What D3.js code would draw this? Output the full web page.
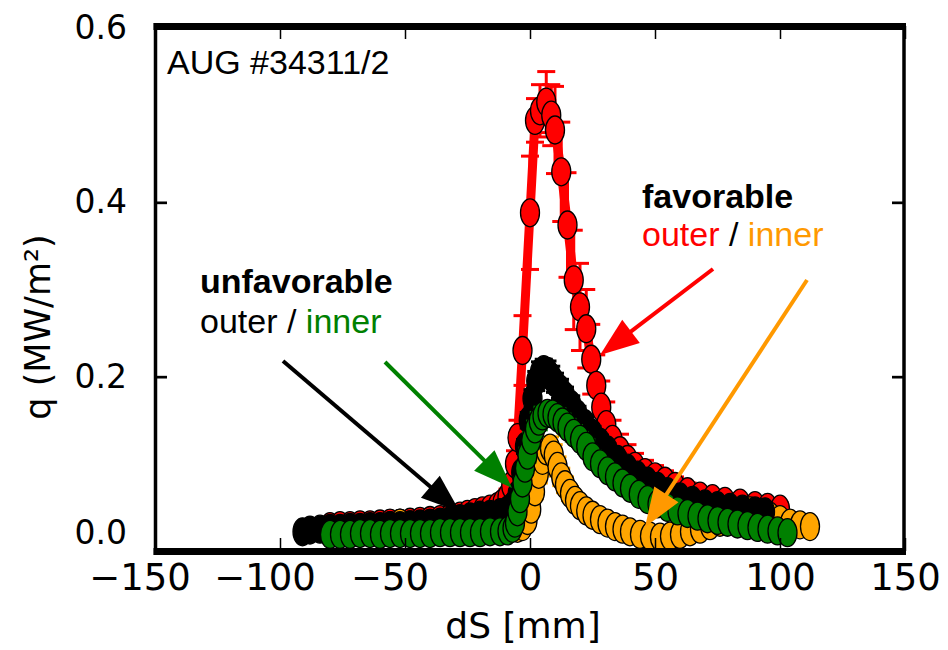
<!DOCTYPE html>
<html><head><meta charset="utf-8">
<script src="https://cdn.jsdelivr.net/npm/d3@7"></script>
<style>body{margin:0;background:#fff}svg{display:block}</style>
</head><body><svg id="c" width="948" height="650"></svg>
<script>
const xTicks = [-150,-100,-50,0,50,100,150];
const yTicks = [0,0.2,0.4,0.6];

// favorable outer (red)
const redX = [-80,-76,-72,-68,-64,-60,-56,-52,-48,-44,-40,-36,-32,-28,-25,-22,-19,-16,-13,-11,-9,-7.5,-6,-5,-3,0,2,4,6.5,8.5,10,12.5,15,17.5,20,22.5,24.5,26.5,28.5,30.5,33,36,39,42,46,50,54,58,63,68,73,78,84,90,95,100];
const redQ = [.028,.029,.029,.030,.030,.031,.032,.032,.033,.034,.035,.036,.038,.040,.042,.044,.046,.048,.051,.055,.062,.075,.10,.13,.23,.388,.494,.505,.515,.50,.483,.435,.374,.311,.28,.255,.22,.19,.165,.145,.128,.115,.105,.097,.09,.085,.08,.074,.068,.063,.06,.057,.055,.052,.05,.048];
const redE = [.004,.004,.004,.004,.004,.004,.004,.004,.004,.004,.004,.005,.005,.005,.005,.006,.006,.006,.007,.008,.009,.011,.015,.02,.04,.065,.025,.03,.035,.035,.05,.057,.06,.057,.05,.045,.04,.035,.03,.026,.022,.019,.017,.015,.014,.013,.012,.011,.01,.009,.009,.008,.008,.008,.007,.007];

// favorable inner (orange)
const orangeX = [-80,-76,-72,-68,-64,-60,-56,-52,-48,-44,-40,-36,-32,-28,-24,-20,-16,-12,-8,-5,-3,-1,0.5,2,3.5,5,6.5,8,9.5,11,12.5,14,16,18,20,22.5,25,28,31,34,37,40,44,48,52,56,60,64,68,72,76,80,84,88,92,96,100,104,108,112];
const orangeQ = [.022,.023,.024,.025,.026,.027,.029,.032,.030,.028,.027,.027,.028,.029,.030,.031,.032,.030,.028,.026,.028,.035,.048,.068,.088,.104,.115,.118,.110,.097,.085,.076,.066,.058,.052,.046,.041,.036,.032,.028,.025,.022,.019,.017,.016,.017,.019,.022,.025,.029,.033,.038,.043,.046,.044,.040,.036,.032,.030,.028];
const orangeE = [.003,.003,.003,.003,.003,.003,.004,.004,.004,.004,.004,.004,.004,.004,.004,.004,.004,.004,.004,.004,.004,.005,.006,.008,.01,.012,.013,.013,.012,.011,.01,.009,.008,.007,.006,.006,.005,.005,.004,.004,.004,.004,.003,.003,.003,.003,.003,.003,.004,.004,.004,.005,.005,.005,.005,.005,.005,.004,.004,.004];

// unfavorable outer (black)
const blackX = [-91,-88,-84,-80,-76,-72,-68,-64,-60,-56,-52,-48,-44,-40,-36,-32,-28,-24,-20,-16,-12,-9,-7,-5,-3.5,-2,-0.5,1,2.5,4,5.5,7,8.5,10,12,14,16.5,19,22,25,28,31,35,39,43,47,51,55,60,65,70,75,80,85,90,94];
const blackQ = [.022,.024,.025,.026,.026,.027,.027,.028,.028,.029,.029,.030,.031,.032,.033,.035,.037,.039,.041,.042,.044,.047,.052,.065,.09,.12,.15,.175,.195,.205,.208,.206,.200,.193,.186,.178,.168,.157,.146,.135,.125,.116,.105,.095,.087,.080,.074,.068,.062,.058,.054,.052,.050,.048,.046,.045];
const blackE = [.003,.003,.003,.003,.003,.003,.003,.003,.003,.003,.003,.003,.003,.003,.003,.003,.004,.004,.004,.004,.004,.004,.004,.005,.006,.008,.009,.01,.011,.012,.012,.012,.012,.011,.011,.01,.01,.009,.009,.008,.008,.007,.007,.006,.006,.005,.005,.005,.004,.004,.004,.004,.004,.004,.004,.004];

// unfavorable inner (green)
const greenX = [-80,-76,-72,-68,-64,-60,-56,-52,-48,-44,-40,-36,-32,-28,-24,-20,-16,-12,-9,-7,-6,-5,-4,-3,-2,-1,0.5,2,3.5,5,7,9,11,13,15,17.5,20,22.5,25,28,31,34,37,40,43.5,47,51,55,59,63,67,71,75,79,83,87,91,95,99,103];
const greenQ = [.019,.019,.019,.020,.020,.019,.020,.020,.020,.020,.020,.021,.021,.021,.021,.021,.022,.022,.023,.026,.032,.045,.06,.078,.095,.11,.127,.14,.149,.155,.158,.157,.153,.148,.142,.135,.128,.12,.108,.10,.092,.085,.078,.072,.065,.059,.054,.05,.046,.043,.04,.037,.035,.033,.031,.029,.027,.025,.023,.021];
const greenE = [.003,.003,.003,.003,.003,.003,.003,.003,.003,.003,.003,.003,.003,.003,.003,.003,.003,.003,.003,.003,.004,.004,.005,.006,.007,.008,.009,.009,.01,.01,.01,.01,.01,.009,.009,.009,.008,.008,.007,.007,.006,.006,.005,.005,.005,.004,.004,.004,.004,.004,.003,.003,.003,.003,.003,.003,.003,.003,.003,.003];

const series = [
  {x: redX, q: redQ, e: redE, color: "#ff0000", lw: 9},
  {x: orangeX, q: orangeQ, e: orangeE, color: "#ffa500", lw: 5},
  {x: blackX, q: blackQ, e: blackE, color: "#000000", lw: 5},
  {x: greenX, q: greenQ, e: greenE, color: "#008000", lw: 5}
];

const svg = d3.select('#c');
const x = d3.scaleLinear().domain([-150,150]).range([155,905]);
const y = d3.scaleLinear().domain([0,0.6]).range([551,28]);

const plot = svg.append('g');
series.forEach(s => {
  const pts = s.x.map((v,i) => ({x: v, q: s.q[i], e: s.e[i]}));
  const g = plot.append('g');
  const eb = g.append('g').attr('stroke', s.color).attr('stroke-width', 3);
  pts.forEach(p => {
    eb.append('line').attr('x1', x(p.x)).attr('x2', x(p.x)).attr('y1', y(p.q - p.e)).attr('y2', y(p.q + p.e));
    [p.q - p.e, p.q + p.e].forEach(v => eb.append('line')
      .attr('x1', x(p.x) - 9).attr('x2', x(p.x) + 9).attr('y1', y(v)).attr('y2', y(v)));
  });
  g.append('path').datum(pts)
    .attr('d', d3.line().x(d => x(d.x)).y(d => y(d.q)))
    .attr('fill', 'none').attr('stroke', s.color).attr('stroke-width', s.lw).attr('stroke-linejoin', 'round');
  g.selectAll('ellipse').data(pts).join('ellipse')
    .attr('cx', d => x(d.x)).attr('cy', d => y(d.q))
    .attr('rx', 9.5).attr('ry', 14)
    .attr('fill', s.color).attr('stroke', '#000').attr('stroke-width', 1.3);
});

// axes
const font = "'DejaVu Sans', sans-serif";
const xb = svg.append('g').attr('transform', 'translate(0,551)')
  .call(d3.axisBottom(x).tickValues(xTicks).tickSize(-13).tickPadding(13).tickFormat(d3.format('d')));
const xt = svg.append('g').attr('transform', 'translate(0,26)')
  .call(d3.axisTop(x).tickValues(xTicks).tickSize(-13).tickFormat(''));
const yl = svg.append('g').attr('transform', 'translate(155,0)')
  .call(d3.axisLeft(y).tickValues(yTicks).tickSize(-12).tickPadding(28).tickFormat(d3.format('.1f')));
const yr = svg.append('g').attr('transform', 'translate(904,0)')
  .call(d3.axisRight(y).tickValues(yTicks).tickSize(-12).tickFormat(''));
[xb, xt, yl, yr].forEach(a => {
  a.select('.domain').remove();
  a.selectAll('line').attr('stroke', '#000');
});
xb.selectAll('line').attr('stroke-width', 1.5);
xt.selectAll('line').attr('stroke-width', 1.5);
yl.selectAll('line').attr('stroke-width', 2.7);
yr.selectAll('line').attr('stroke-width', 2.7);
xb.selectAll('text').attr('font-family', font).attr('font-size', 37).attr('fill', '#000')
  .attr('dx', d => d < 0 ? '-0.419em' : 0);
yl.selectAll('text').attr('font-family', font).attr('font-size', 33).attr('fill', '#000')
  .attr('dy', d => d === 0 ? '-0.23em' : '0.32em');

// frame
const frame = svg.append('g').attr('stroke', '#000');
frame.append('line').attr('x1', 153.5).attr('x2', 906).attr('y1', 26.5).attr('y2', 26.5).attr('stroke-width', 7);
frame.append('line').attr('x1', 153.5).attr('x2', 906).attr('y1', 551.5).attr('y2', 551.5).attr('stroke-width', 7);
frame.append('line').attr('x1', 155.5).attr('x2', 155.5).attr('y1', 23).attr('y2', 555).attr('stroke-width', 3.5);
frame.append('line').attr('x1', 904).attr('x2', 904).attr('y1', 23).attr('y2', 555).attr('stroke-width', 3.5);

// axis titles
svg.append('text').attr('x', 523).attr('y', 638).attr('text-anchor', 'middle')
  .attr('font-family', font).attr('font-size', 36).text('dS [mm]');
svg.append('text').attr('transform', 'translate(50,327) rotate(-90)').attr('text-anchor', 'middle')
  .attr('font-family', font).attr('font-size', 35).text('q (MW/m²)');

// annotations
const af = "'Liberation Sans', Arial, sans-serif";
svg.append('text').attr('x', 167).attr('y', 74).attr('font-family', af).attr('font-size', 34).text('AUG #34311/2');
svg.append('text').attr('x', 200).attr('y', 293).attr('font-family', af).attr('font-size', 34).attr('font-weight', 'bold').text('unfavorable');
const t1 = svg.append('text').attr('x', 200).attr('y', 333).attr('font-family', af).attr('font-size', 34);
t1.append('tspan').attr('fill', '#000').text('outer / ');
t1.append('tspan').attr('fill', '#008000').text('inner');
svg.append('text').attr('x', 642).attr('y', 208).attr('font-family', af).attr('font-size', 34).attr('font-weight', 'bold').text('favorable');
const t2 = svg.append('text').attr('x', 642).attr('y', 246).attr('font-family', af).attr('font-size', 34);
t2.append('tspan').attr('fill', '#ff0000').text('outer');
t2.append('tspan').attr('fill', '#000').text(' / ');
t2.append('tspan').attr('fill', '#ff9900').text('inner');

// arrows
const arrows = [
  {from: [283,361], to: [460,512], color: '#000000'},
  {from: [385,362], to: [512,488], color: '#008000'},
  {from: [713,269], to: [600,355], color: '#ff0000'},
  {from: [807,280], to: [645,527], color: '#ff9900'}
];
arrows.forEach(a => {
  const dx = a.to[0] - a.from[0], dy = a.to[1] - a.from[1];
  const L = Math.hypot(dx, dy), ux = dx / L, uy = dy / L;
  const hl = 39, hw = 14.5;
  const bx = a.to[0] - ux * hl, by = a.to[1] - uy * hl;
  svg.append('line').attr('x1', a.from[0]).attr('y1', a.from[1]).attr('x2', bx + ux * 2).attr('y2', by + uy * 2)
    .attr('stroke', a.color).attr('stroke-width', 4);
  svg.append('polygon')
    .attr('points', [[a.to[0], a.to[1]], [bx - uy * hw, by + ux * hw], [bx + uy * hw, by - ux * hw]].map(p => p.join(',')).join(' '))
    .attr('fill', a.color);
});
</script></body></html>
